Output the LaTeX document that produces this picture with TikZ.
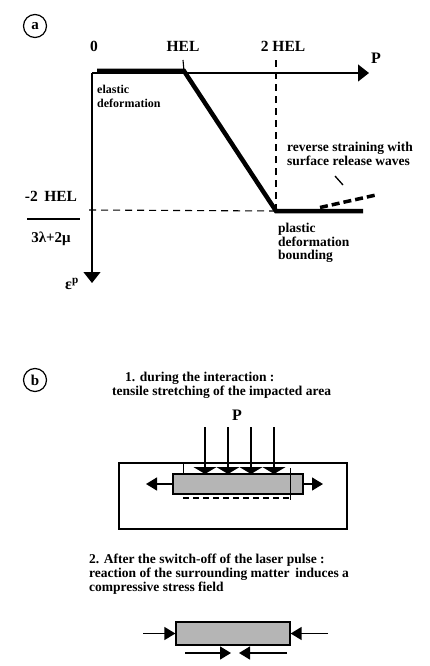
\documentclass[tikz,border=0pt]{standalone}
\usepackage{fontspec}
\setmainfont{Liberation Serif}
\usetikzlibrary{arrows.meta,shapes,positioning}

\tikzset{
  lbl/.style={font=\fontsize{13.5}{13.7}\selectfont\bfseries, inner sep=0pt, align=left},
  circlbl/.style={draw, circle, line width=1.2pt, minimum size=23pt, inner sep=0pt,
    font=\fontsize{15}{15}\selectfont\bfseries},
  axis/.style={line width=1.2pt, -{Triangle[length=11pt,width=17pt]}},
  curve/.style={line width=4.5pt, line join=miter},
  guide/.style={line width=1.1pt, dash pattern=on 7pt off 5pt},
  bar/.style={draw, line width=1.3pt, fill=gray!58, inner sep=0pt},
  push/.style={line width=1.5pt, -{Triangle[length=7pt,width=23pt]}},
  pull/.style={line width=1.4pt, -{Triangle[length=11pt,width=13pt]}}
}

\begin{document}
\begin{tikzpicture}[x=1pt,y=-1pt]
   \useasboundingbox (0,0) rectangle (429,666);
   % (a) Label
   \node[circlbl] (la) at (35,26) {a};
   % Axis
   \coordinate (O) at (92,73);
   \coordinate (Pend) at (369,73);
   \coordinate (Eend) at (92,283);
   \draw[axis] (O) -- (Pend);
   \draw[axis] (O) -- (Eend);
   \node[lbl, font=\fontsize{16}{16}\selectfont\bfseries] (P) at (376,58) {P};
   \node[lbl, font=\fontsize{16}{16}\selectfont\bfseries] (eps) at (72,284) {ε\textsuperscript{p}};
   % Ticks
   \node[lbl, font=\fontsize{15.5}{15.5}\selectfont\bfseries] (t0) at (94,46) {0};
   \node[lbl, font=\fontsize{15.5}{15.5}\selectfont\bfseries] (t1) at (183,46) {HEL};
   \node[lbl, font=\fontsize{15.5}{15.5}\selectfont\bfseries] (t2) at (283,46) {2 HEL};
   \node[lbl, font=\fontsize{15.5}{15.5}\selectfont\bfseries] (num) at (51,196) {-2\, HEL};
   \node[lbl, font=\fontsize{15}{15}\selectfont\bfseries] (den) at (51,239) {3λ+2μ};
   \draw[line width=1.3pt] (27,219) -- (80,219);
   \coordinate (hel) at (184,71);
   \coordinate (twohel) at (276,211);
   \coordinate (endp) at (363,211);
   \draw[line width=1.1pt] (hel) -- (t1.south |- 0,60);
   \draw[guide] (twohel) -- (276,57);
   \draw[guide] (twohel) -- (88,210);
   % Curve
   \draw[curve] (97,71) -- (hel) -- (twohel) -- (endp);
   \draw[line width=3.5pt, dash pattern=on 8pt off 4pt] (320,207.5) -- (376,195);
   \draw[line width=1.3pt] (335,176) -- (343,185);
   % Notes
   \node[lbl, font=\fontsize{12}{14}\selectfont\bfseries, anchor=west] (el) at (97,96) {elastic\\deformation};
   \node[lbl, anchor=west] (pl) at (278,243) {plastic\\deformation\\bounding};
   \node[lbl, anchor=west] (rv) at (287,154) {reverse straining with\\surface release waves};

   % (b) Label
   \node[circlbl] (lb) at (35,380) {b};
   \node[lbl, anchor=west] (s1) at (112,385) {\hspace*{13pt}1. during the interaction :\\tensile stretching of the impacted area};
   \node[lbl, font=\fontsize{16}{16}\selectfont\bfseries] (Pb) at (237,415) {P};
   % Target
   \draw[line width=1.3pt] (119,463) rectangle (347,529);
   \draw[line width=0.9pt] (183,463) -- (183,494);
   \node[bar, minimum width=130pt, minimum height=20pt] (b1) at (238,484) {};
   \draw[line width=0.9pt] (290,468) -- (290,500);
   \draw[line width=1.3pt, dash pattern=on 6pt off 4pt] (183,498) -- (290,498);
   \foreach \x in {205,228,251,274}
     \draw[push] (\x,427) -- (\x,474);
   \coordinate (l1) at (146,484);
   \coordinate (r1) at (323,484);
   \draw[pull] (b1.west) -- (l1);
   \draw[pull] (b1.east) -- (r1);
   % Second stage
   \node[lbl, anchor=west] (s2) at (89,574) {2. After the switch-off of the laser pulse :\\reaction of the surrounding matter\, induces a\\compressive stress field};
   \node[bar, minimum width=114pt, minimum height=23pt] (b2) at (233,633.5) {};
   \coordinate (l2) at (143,633.5);
   \coordinate (r2) at (328,633.5);
   \coordinate (bl) at (185,653);
   \coordinate (bm1) at (231,653);
   \coordinate (bm2) at (239,653);
   \coordinate (br) at (287,653);
   \draw[pull] (l2) -- (b2.west);
   \draw[pull] (r2) -- (b2.east);
   \draw[pull] (bl) -- (bm1);
   \draw[pull] (br) -- (bm2);
\end{tikzpicture}
\end{document}
